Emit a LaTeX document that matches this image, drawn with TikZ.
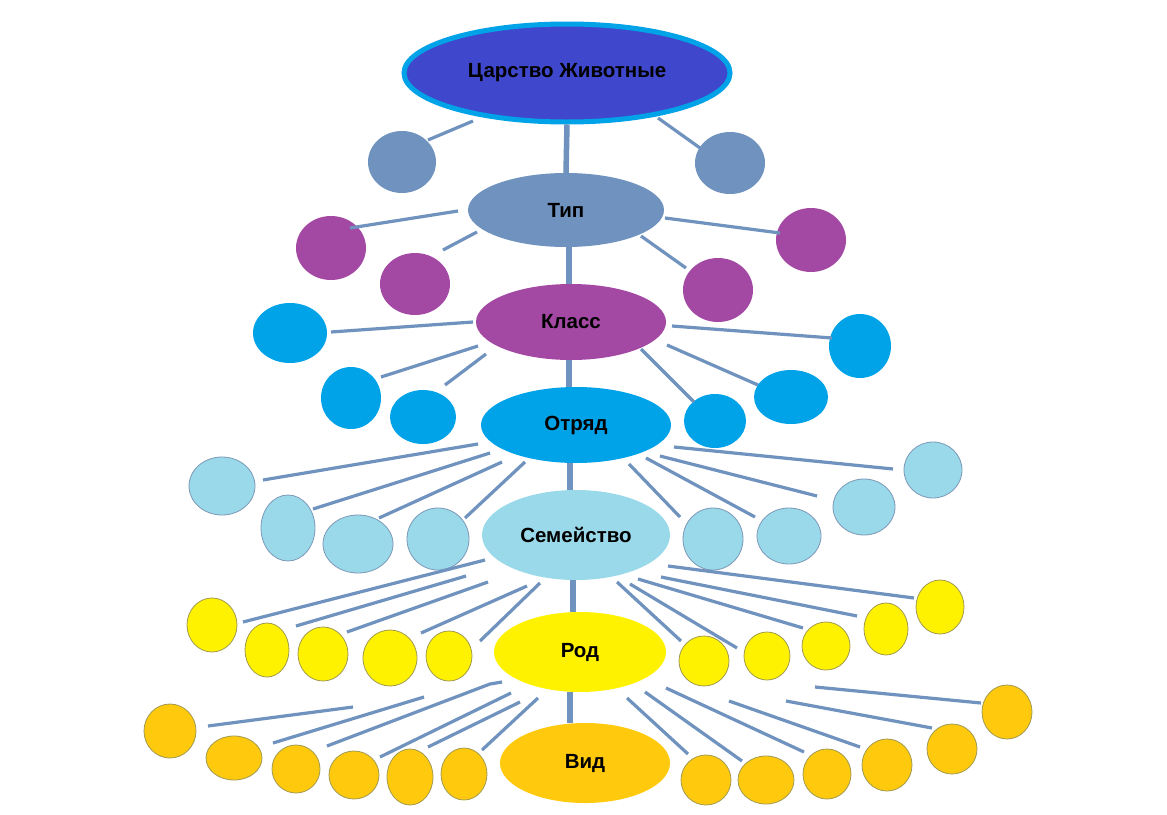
\documentclass[tikz,border=0pt]{standalone}
\usepackage{fontspec}
\setmainfont{Liberation Sans}
\usetikzlibrary{shapes.geometric}
\definecolor{kingdom}{HTML}{3F48CC}
\definecolor{kingedge}{HTML}{00A2E8}
\definecolor{tipc}{HTML}{7092BE}
\definecolor{klassc}{HTML}{A349A4}
\definecolor{otrc}{HTML}{00A2E8}
\definecolor{semc}{HTML}{99D9EA}
\definecolor{rodc}{HTML}{FFF200}
\definecolor{vidc}{HTML}{FFC90E}
\definecolor{conn}{HTML}{7092BE}
\definecolor{semedge}{HTML}{7C98B6}
\definecolor{yedge}{HTML}{A09A50}
\tikzset{
  big/.style={ellipse, inner sep=0pt, font=\fontsize{20.5}{22}\selectfont\bfseries, text=black},
  blob/.style={ellipse, inner sep=0pt},
  spoke/.style={draw=conn, line width=3.2pt},
  trunk/.style={draw=conn, line width=5.5pt},
}
\begin{document}
\begin{tikzpicture}[x=1pt,y=-1pt]
\useasboundingbox (0,0) rectangle (1167,814);
\fill[white] (0,0) rectangle (1167,814);

% main nodes
\node[big, fill=kingdom, draw=kingedge, line width=5pt, minimum width=326, minimum height=98] (K) at (567,73) {Царство Животные};
\node[big, fill=tipc,   minimum width=196, minimum height=74] (T) at (566,210) {Тип};
\node[big, fill=klassc, minimum width=190, minimum height=76] (C) at (571,322) {Класс};
\node[big, fill=otrc,   minimum width=190, minimum height=76] (O) at (576,425) {Отряд};
\node[big, fill=semc,   minimum width=188, minimum height=90] (S) at (576,535) {Семейство};
\node[big, fill=rodc,   minimum width=172, minimum height=80] (R) at (580,652) {Род};
\node[big, fill=vidc,   minimum width=170, minimum height=80] (V) at (585,763) {Вид};

% trunks
\draw[trunk] (K.south) -- (T.north);
\draw[trunk] ([xshift=3pt]T.south) -- ([xshift=-2pt]C.north);
\draw[trunk] ([xshift=-2pt]C.south) -- ([xshift=-7pt]O.north);
\draw[trunk] ([xshift=-6pt]O.south) -- ([xshift=-6pt]S.north);
\draw[trunk] ([xshift=-3pt]S.south) -- ([xshift=-7pt]R.north);
\draw[trunk] ([xshift=-10pt]R.south) -- ([xshift=-15pt]V.north);

% small circles
\foreach \n/\x/\y/\w/\h in {A1/402/162/68/62, A2/730/163/70/62}
  \node[blob, fill=tipc, minimum width=\w, minimum height=\h] (\n) at (\x,\y) {};
\foreach \n/\x/\y/\w/\h in {B1/331/248/70/64, B2/415/284/70/62, B3/718/290/70/64, B4/811/240/70/64}
  \node[blob, fill=klassc, minimum width=\w, minimum height=\h] (\n) at (\x,\y) {};
\foreach \n/\x/\y/\w/\h in {C1/290/333/74/60, C2/351/398/60/62, C3/423/417/66/54,
                            C4/715/421/62/54, C5/791/397/74/54, C6/860/346/62/64}
  \node[blob, fill=otrc, minimum width=\w, minimum height=\h] (\n) at (\x,\y) {};
\foreach \n/\x/\y/\w/\h in {D1/222/486/66/58, D2/288/528/54/66, D3/358/544/70/58, D4/438/539/62/62,
                            D5/713/539/60/62, D6/789/536/64/56, D7/864/507/62/56, D8/933/470/58/56}
  \node[blob, fill=semc, draw=semedge, line width=0.8pt, minimum width=\w, minimum height=\h] (\n) at (\x,\y) {};
\foreach \n/\x/\y/\w/\h in {E1/212/625/50/54, E2/267/650/44/54, E3/323/654/50/54, E4/390/658/54/56,
                            E5/449/656/46/50, E6/704/661/50/50, E7/767/656/46/48, E8/826/646/48/48,
                            E9/886/629/44/52, E10/940/607/48/54}
  \node[blob, fill=rodc, draw=yedge, line width=0.8pt, minimum width=\w, minimum height=\h] (\n) at (\x,\y) {};
\foreach \n/\x/\y/\w/\h in {F1/170/731/52/54, F2/234/758/56/44, F3/296/769/48/48, F4/354/775/50/48,
                            F5/410/777/46/56, F6/464/774/46/52, F7/706/780/50/50, F8/766/780/56/48,
                            F9/827/774/48/50, F10/887/765/50/52, F11/952/749/50/50, F12/1007/712/50/54}
  \node[blob, fill=vidc, draw=yedge, line width=0.8pt, minimum width=\w, minimum height=\h] (\n) at (\x,\y) {};

% spokes
\foreach \a/\b/\c/\d in {
  473/121/428/140, 658/118/700/148,
  458/211/350/228, 477/232/443/250, 641/236/686/268, 665/218/780/233,
  473/322/331/332, 478/346/381/377, 486/354/445/385, 641/349/694/402, 667/345/758/385, 672/326/832/338,
  478/444/263/480, 490/453/313/509, 502/462/379/518, 525/462/465/518,
  629/464/680/517, 646/458/755/517, 660/456/817/496, 674/447/893/469,
  485/560/243/622, 466/576/296/626, 488/582/347/632, 527/586/421/633, 540/583/480/641,
  617/582/681/641, 630/584/737/648, 638/579/803/628, 661/577/857/616, 668/566/914/598,
  353/707/208/726, 424/697/273/743, 511/693/380/757, 520/702/428/747, 538/698/482/750,
  627/698/688/754, 645/692/742/761, 666/688/804/752, 729/701/860/747, 786/701/932/728, 815/687/981/703}
  \draw[spoke] (\a,\b) -- (\c,\d);
\draw[spoke] (502,682) -- (490,684) -- (327,746);
\end{tikzpicture}
\end{document}
